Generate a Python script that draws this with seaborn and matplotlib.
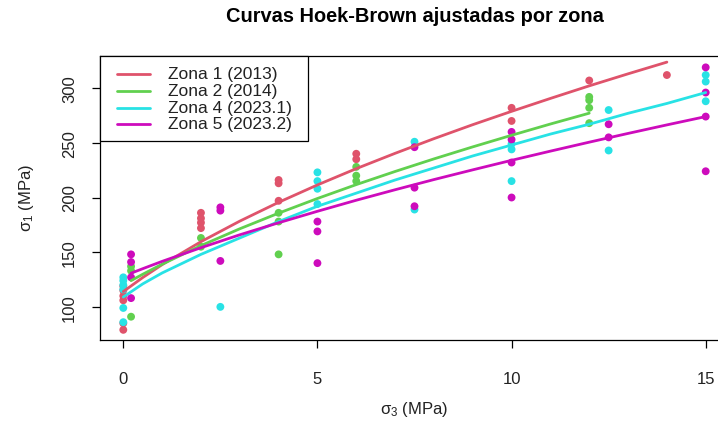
import matplotlib
matplotlib.use("Agg")
import matplotlib.pyplot as plt
from matplotlib.lines import Line2D
from matplotlib.patches import Rectangle
import pandas as pd
import seaborn as sns

# ---------------- data ----------------
zones = ["Zona 1 (2013)", "Zona 2 (2014)", "Zona 4 (2023.1)", "Zona 5 (2023.2)"]
colors = ["#DF536B", "#61D04F", "#28E2E5", "#CD0BBC"]

z1_s3 = [0, 0, 0, 0, 0, 0, 2, 2, 2, 2, 4, 4, 4, 6, 6, 10, 10, 12, 14]
z1_s1 = [79, 85, 106, 110, 115, 119, 186, 181, 177, 172, 216, 213, 197, 240, 235, 282, 270, 307, 312]

z2_s3 = [0.2, 0.2, 0.2, 2, 2, 4, 4, 4, 6, 6, 6, 12, 12, 12, 12]
z2_s1 = [91, 133, 137, 163, 155, 186, 178, 148, 228, 220, 215, 292, 289, 282, 268]

z4_s3 = [0, 0, 0, 0, 0, 0, 2.5, 5, 5, 5, 5, 7.5, 7.5, 10, 10, 10, 12.5, 12.5, 15, 15, 15]
z4_s1 = [86, 99, 116, 120, 124, 127, 100, 223, 215, 208, 194, 251, 189, 249, 244, 215, 280, 243, 312, 306, 288]

z5_s3 = [0.2, 0.2, 0.2, 0.2, 2.5, 2.5, 2.5, 5, 5, 5, 7.5, 7.5, 7.5, 10, 10, 10, 10, 12.5, 12.5, 15, 15, 15, 15]
z5_s1 = [148, 141, 127, 108, 191, 188, 142, 178, 169, 140, 246, 209, 192, 260, 253, 232, 200, 267, 255, 319, 296, 274, 224]

# fitted Hoek-Brown curves
c1_s3 = [0, 0.5, 1, 2, 3, 4, 5, 6, 7, 8, 9, 10, 11, 12, 13, 14]
c1_s1 = [114, 126.8, 138.6, 159.6, 178.4, 195.6, 211.5, 226.4, 240.4, 253.8, 266.6, 278.8, 290.6, 302.1, 313.1, 323.8]

c2_s3 = [0.2, 0.5, 1, 2, 3, 4, 5, 6, 7, 8, 9, 10, 11, 12]
c2_s1 = [124, 129.8, 139, 156, 171.4, 185.7, 199.1, 211.8, 223.8, 235.3, 246.3, 256.9, 267.2, 277.1]

c4_s3 = [0, 0.5, 1, 2, 3, 4, 5, 6, 7, 8, 9, 10, 11, 12, 13, 14, 15]
c4_s1 = [109, 121, 131, 148, 163, 178, 192, 204, 216, 227, 238, 248, 258, 267, 277, 286, 296]

c5_s3 = [0.2, 0.5, 1, 2, 3, 4, 5, 6, 7, 8, 9, 10, 11, 12, 13, 14, 15]
c5_s1 = [130.8, 134.9, 141.6, 154.1, 165.9, 176.9, 187.4, 197.5, 207.1, 216.4, 225.3, 234, 242.4, 250.6, 258.6, 266.4, 274]

x_ticks = [0, 5, 10, 15]
y_ticks = [100, 150, 200, 250, 300]

# ---------------- build tables ----------------
pts = pd.concat([
    pd.DataFrame({"s3": z1_s3, "s1": z1_s1, "zona": zones[0]}),
    pd.DataFrame({"s3": z2_s3, "s1": z2_s1, "zona": zones[1]}),
    pd.DataFrame({"s3": z4_s3, "s1": z4_s1, "zona": zones[2]}),
    pd.DataFrame({"s3": z5_s3, "s1": z5_s1, "zona": zones[3]}),
], ignore_index=True)

crv = pd.concat([
    pd.DataFrame({"s3": c1_s3, "s1": c1_s1, "zona": zones[0]}),
    pd.DataFrame({"s3": c2_s3, "s1": c2_s1, "zona": zones[1]}),
    pd.DataFrame({"s3": c4_s3, "s1": c4_s1, "zona": zones[2]}),
    pd.DataFrame({"s3": c5_s3, "s1": c5_s1, "zona": zones[3]}),
], ignore_index=True)

palette = dict(zip(zones, colors))

# ---------------- style ----------------
sns.set_theme(style="white")
plt.rcParams["font.family"] = ["Liberation Sans", "DejaVu Sans"]
plt.rcParams["mathtext.fontset"] = "custom"
plt.rcParams["mathtext.rm"] = "Liberation Sans"
plt.rcParams["mathtext.it"] = "Liberation Sans"
plt.rcParams["mathtext.bf"] = "Liberation Sans:bold"

W, H = 718, 431
fig = plt.figure(figsize=(W / 100, H / 100), dpi=100)
fig.patch.set_facecolor("white")
# plot box in pixels: left 100, right 729 (beyond image), top 57, bottom 341
L, R, T, B = 100, 729, 57, 341
ax = fig.add_axes([L / W, 1 - B / H, (R - L) / W, (B - T) / H])
ax.set_facecolor("white")

sns.scatterplot(data=pts, x="s3", y="s1", hue="zona", palette=palette,
                hue_order=zones, s=32, linewidth=0, legend=False, ax=ax, zorder=2)
sns.lineplot(data=crv, x="s3", y="s1", hue="zona", palette=palette,
             hue_order=zones, estimator=None, sort=False, lw=2, legend=False,
             ax=ax, zorder=3)

ax.set_xlim(-0.6, 15.6)
ax.set_ylim(69.7, 329.4)
ax.set_xticks(x_ticks)
ax.set_xticklabels([str(v) for v in x_ticks])
ax.set_yticks(y_ticks)
ax.set_yticklabels([str(v) for v in y_ticks], rotation=90, va="center")
ax.tick_params(axis="both", direction="out", length=5.5, width=0.9, color="black",
               labelsize=12, labelcolor="#222222", bottom=True, left=True)
ax.tick_params(axis="x", pad=17)
ax.tick_params(axis="y", pad=11)
ax.set_xlabel("")
ax.set_ylabel("")
for sp in ax.spines.values():
    sp.set_color("black")
    sp.set_linewidth(0.9)
ax.grid(False)


# ---------------- legend (R style box, top-left) ----------------
def fx(px):
    return px / W


def fy(py):
    return 1 - py / H


fig.patches.append(Rectangle((fx(L), fy(142)), fx(308) - fx(L), fy(T) - fy(142),
                             transform=fig.transFigure, facecolor="white",
                             edgecolor="black", linewidth=0.9, zorder=5))
row_y = [75, 92, 108.5, 125]
for ry, c, lab in zip(row_y, colors, zones):
    fig.lines.append(Line2D([fx(117), fx(150)], [fy(ry), fy(ry)], color=c, lw=2,
                            transform=fig.transFigure, zorder=6))
    fig.text(fx(168), fy(ry), lab, ha="left", va="center", fontsize=12.5,
             color="#222222", zorder=6)

fig.text((L + R) / 2 / W, 1 - 17 / H, "Curvas Hoek-Brown ajustadas por zona",
         ha="center", va="center", fontsize=14.4, fontweight="bold", color="black")
fig.text((L + R) / 2 / W, 1 - 410 / H, r"$\sigma_3$ (MPa)", ha="center",
         va="center", fontsize=12, color="#222222")
fig.text(26 / W, 1 - 198 / H, r"$\sigma_1$ (MPa)", ha="center", va="center",
         rotation=90, fontsize=12, color="#222222")

fig.savefig("out.png", dpi=100)
